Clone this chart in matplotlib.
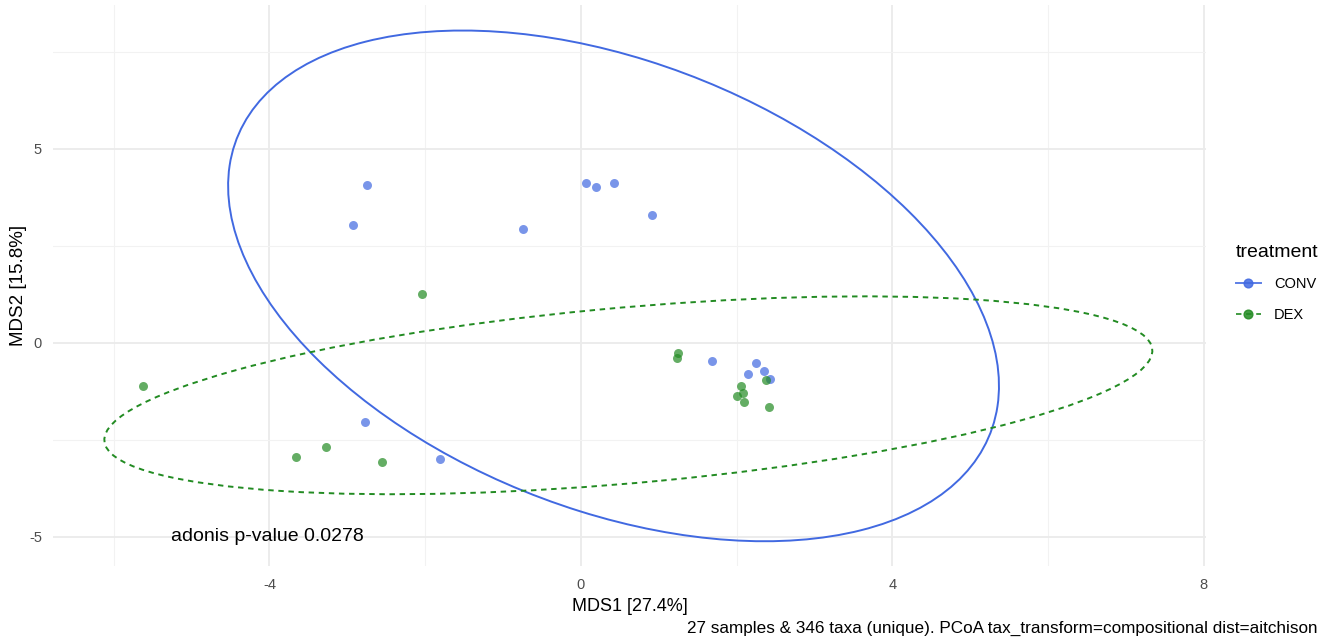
"""PCoA ordination of samples by treatment, with t-ellipses and adonis note."""

import matplotlib

matplotlib.use("Agg")

import matplotlib.pyplot as plt
from matplotlib.lines import Line2D
from matplotlib.patches import Ellipse
from matplotlib.ticker import FixedLocator

plt.rcParams["font.family"] = ["Liberation Sans", "DejaVu Sans"]
plt.rcParams["axes.unicode_minus"] = False

# sample scores (MDS1, MDS2)
conv_mds1 = [-2.75, -2.93, -0.74, 0.07, 0.20, 0.43, 0.92,
             -2.77, -1.81, 1.68, 2.25, 2.35, 2.15, 2.43]
conv_mds2 = [4.07, 3.05, 2.94, 4.11, 4.01, 4.12, 3.30,
             -2.04, -2.99, -0.46, -0.51, -0.72, -0.81, -0.94]
dex_mds1 = [-2.04, -5.62, -3.66, -3.27, -2.56, 1.25, 1.24,
            2.38, 2.06, 2.08, 2.01, 2.10, 2.42]
dex_mds2 = [1.26, -1.10, -2.95, -2.69, -3.07, -0.27, -0.39,
            -0.95, -1.12, -1.30, -1.37, -1.53, -1.64]

# 95% ellipses: centre, full axes and rotation (degrees) in data units
conv_ellipse = {"xy": (0.42, 1.47), "width": 14.11, "height": 8.50, "angle": 116.8}
dex_ellipse = {"xy": (0.61, -1.35), "width": 13.68, "height": 4.48, "angle": 10.87}

groups = ["CONV", "DEX"]
group_colors = {"CONV": "#4169E1", "DEX": "#228B22"}
group_styles = {"CONV": "-", "DEX": (0, (2.8, 2.4))}

x_major = [-4, 0, 4, 8]
x_minor = [-6, -2, 2, 6]
y_major = [-5, 0, 5]
y_minor = [-2.5, 2.5, 7.5]

x_label = "MDS1 [27.4%]"
y_label = "MDS2 [15.8%]"
adonis_text = "adonis p-value 0.0278"
adonis_pos = (-4.03, -5.0)
caption = ("27 samples & 346 taxa (unique). PCoA "
           "tax_transform=compositional dist=aitchison")

fig = plt.figure(figsize=(13.25, 6.42), dpi=100)
ax = fig.add_axes([0.040, 0.1184, 0.8702, 0.8738])

ax.set_xlim(-6.78, 8.03)
ax.set_ylim(-5.75, 8.71)

ax.xaxis.set_major_locator(FixedLocator(x_major))
ax.xaxis.set_minor_locator(FixedLocator(x_minor))
ax.yaxis.set_major_locator(FixedLocator(y_major))
ax.yaxis.set_minor_locator(FixedLocator(y_minor))
ax.grid(True, which="major", color="#EBEBEB", linewidth=1.3)
ax.grid(True, which="minor", color="#F2F2F2", linewidth=0.8)
ax.set_axisbelow(True)
for spine in ax.spines.values():
    spine.set_visible(False)
ax.tick_params(which="both", length=0, labelsize=10.5, labelcolor="#4D4D4D")
ax.tick_params(axis="x", pad=9)
ax.tick_params(axis="y", pad=8)

point_sets = {
    "CONV": (conv_mds1, conv_mds2, conv_ellipse),
    "DEX": (dex_mds1, dex_mds2, dex_ellipse),
}
for name in groups:
    xs, ys, ell = point_sets[name]
    color = group_colors[name]
    ax.scatter(xs, ys, s=42, color=color, alpha=0.7, linewidths=0, zorder=3)
    ax.add_patch(Ellipse(ell["xy"], ell["width"], ell["height"], angle=ell["angle"],
                         fill=False, edgecolor=color, linewidth=1.4,
                         linestyle=group_styles[name], zorder=2))

ax.text(adonis_pos[0], adonis_pos[1], adonis_text, ha="center", va="center",
        fontsize=14, color="black")

ax.set_xlabel(x_label, fontsize=13, labelpad=4)
ax.set_ylabel(y_label, fontsize=13.5, labelpad=1)

handles = [
    Line2D([0], [0], color=group_colors[g], linestyle=group_styles[g],
           linewidth=1.4, marker="o", markersize=6.3, alpha=0.85)
    for g in groups
]
legend = fig.legend(handles, groups, title="treatment", loc="upper left",
                    bbox_to_anchor=(0.9328, 0.6205), frameon=False, fontsize=10.5,
                    title_fontsize=14, handlelength=1.7, handletextpad=0.9,
                    labelspacing=1.15, borderpad=0, borderaxespad=0)
legend._legend_box.align = "left"

fig.text(0.9945, 0.0218, caption, ha="right", va="center", fontsize=12.3)

fig.savefig("out.png", dpi=100, facecolor="white")
